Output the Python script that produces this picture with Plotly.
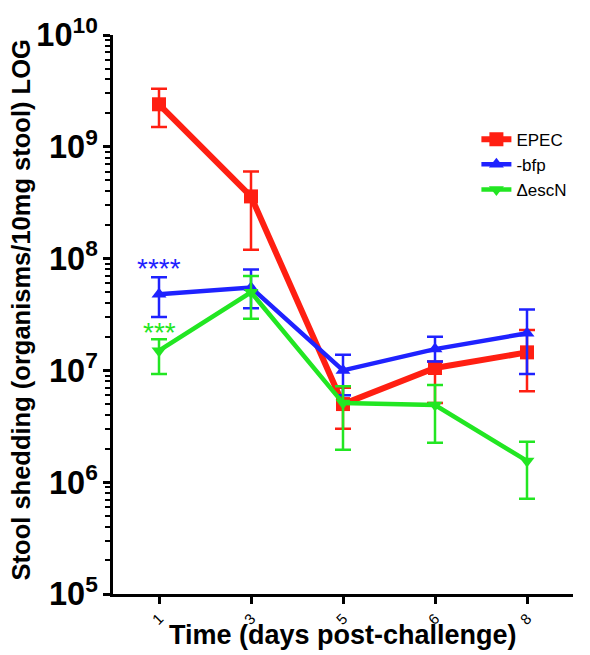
import plotly.graph_objects as go

days = ["1", "3", "5", "6", "8"]

epec_mean = [2.4e9, 3.6e8, 5.0e6, 1.05e7, 1.45e7]
epec_high = [3.3e9, 6.0e8, 7.0e6, 1.2e7, 2.3e7]
epec_low = [1.5e9, 1.2e8, 3.0e6, 5.1e6, 6.5e6]

bfp_mean = [4.8e7, 5.5e7, 1.0e7, 1.55e7, 2.15e7]
bfp_high = [6.8e7, 8.0e7, 1.38e7, 2.0e7, 3.5e7]
bfp_low = [3.0e7, 3.6e7, 6.0e6, 1.2e7, 9.3e6]

escn_mean = [1.5e7, 5.0e7, 5.1e6, 4.9e6, 1.55e6]
escn_high = [1.9e7, 7.0e7, 7.2e6, 7.4e6, 2.3e6]
escn_low = [9.3e6, 2.9e7, 1.95e6, 2.25e6, 7.1e5]

series = [
    ("EPEC", epec_mean, epec_high, epec_low, "#ff1f12", "square", 14, 6),
    ("-bfp", bfp_mean, bfp_high, bfp_low, "#1f22ff", "triangle-up", 13, 4.5),
    ("\u0394escN", escn_mean, escn_high, escn_low, "#22e622", "triangle-down", 13, 4.5),
]

fig = go.Figure()
for name, m, hi, lo, col, sym, ms, lw in series:
    fig.add_trace(go.Scatter(
        x=days, y=m, name=name, mode="lines+markers",
        line=dict(color=col, width=lw),
        marker=dict(symbol=sym, size=ms, color=col),
        error_y=dict(type="data", symmetric=False,
                     array=[h - v for h, v in zip(hi, m)],
                     arrayminus=[v - l for v, l in zip(m, lo)],
                     color=col, thickness=2.5, width=8),
    ))

font_family = "Arial, Liberation Sans, Helvetica, sans-serif"

fig.update_layout(
    width=590, height=655,
    margin=dict(l=113, r=17, t=30, b=61),
    paper_bgcolor="white", plot_bgcolor="white",
    font=dict(family=font_family, color="black"),
    showlegend=True,
    legend=dict(x=0.79, y=0.845, xanchor="left", yanchor="top",
                font=dict(size=17, family=font_family),
                bgcolor="rgba(0,0,0,0)", itemwidth=30, tracegroupgap=0),
    xaxis=dict(
        type="category", range=[-0.5, 4.5],
        showline=True, linecolor="black", linewidth=3,
        ticks="outside", ticklen=7, tickwidth=2.5, tickcolor="black",
        tickangle=-45, tickfont=dict(size=15, family=font_family),
        showgrid=False, zeroline=False,
    ),
    yaxis=dict(
        type="log", range=[5, 10], dtick=1, exponentformat="power",
        showline=True, linecolor="black", linewidth=3,
        ticks="outside", ticklen=7, tickwidth=2.5, tickcolor="black",
        tickfont=dict(size=26, family=font_family, weight="bold"),
        minor=dict(ticks="outside", ticklen=5, tickwidth=2, tickcolor="black", dtick="D1", showgrid=False),
        showgrid=False, zeroline=False,
    ),
    annotations=[
        dict(text="<b>Time (days post-challenge)</b>", xref="paper", yref="paper",
             x=0.5, y=-0.0727, xanchor="center", yanchor="middle", showarrow=False,
             font=dict(size=27, family=font_family)),
        dict(text="<b>Stool shedding (organisms/10mg stool) LOG</b>", xref="paper", yref="paper",
             x=-0.198, y=0.509, xanchor="center", yanchor="middle", showarrow=False, textangle=-90,
             font=dict(size=25.5, family=font_family)),
        dict(text="****", x=0, y=7.91, xref="x", yref="y", showarrow=False,
             font=dict(size=28, color="#1f22ff", family=font_family)),
        dict(text="***", x=0, y=7.34, xref="x", yref="y", showarrow=False,
             font=dict(size=28, color="#22e622", family=font_family)),
    ],
)

fig.write_html("out.html")
